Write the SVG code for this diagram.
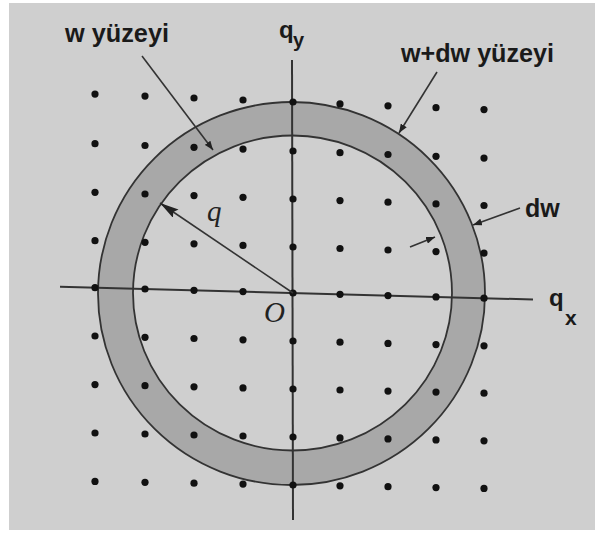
<svg xmlns="http://www.w3.org/2000/svg" width="595" height="542" viewBox="0 0 595 542">
<style>
.lbl{font-family:"Liberation Sans",Arial,sans-serif;font-weight:bold;fill:#1a1a1a}
.ital{font-family:"Liberation Serif","Times New Roman",serif;font-style:italic;fill:#222}
.lead{stroke:#333;stroke-width:1.6;fill:none}
.axis{stroke:#333;stroke-width:2;fill:none}
.dots circle{fill:#111}
</style>
<defs>
<marker id="ah" markerUnits="userSpaceOnUse" markerWidth="10" markerHeight="7" refX="9" refY="3.5" orient="auto">
<path d="M0,0 L9,3.5 L0,7 z" fill="#222"/>
</marker>
<marker id="ahq" markerUnits="userSpaceOnUse" markerWidth="20" markerHeight="10" refX="19" refY="5" orient="auto">
<path d="M0,0 L19,5 L0,10 L3,5 z" fill="#222"/>
</marker>
</defs>
<rect x="0" y="0" width="595" height="542" fill="#ffffff"/>
<rect id="background" x="9" y="3" width="586" height="527" fill="#cfcfcf"/>
<g id="ring">
<ellipse cx="291.5" cy="293.5" rx="193.5" ry="191.5" fill="#a8a8a8" stroke="#333" stroke-width="1.8"/>
<ellipse cx="292.5" cy="293" rx="159.5" ry="157.5" fill="#cfcfcf" stroke="#333" stroke-width="1.8"/>
</g>
<g id="axes">
<line class="axis" x1="60" y1="286.7" x2="533" y2="299.5"/>
<line class="axis" x1="292" y1="60" x2="293" y2="520"/>
</g>
<g id="grid" class="dots">
<circle cx="95" cy="94.1" r="3.6"/><circle cx="145" cy="96.1" r="3.6"/><circle cx="194" cy="98" r="3.6"/><circle cx="243" cy="100" r="3.6"/><circle cx="293" cy="102" r="3.6"/><circle cx="340" cy="103.9" r="3.6"/><circle cx="388" cy="105.8" r="3.6"/><circle cx="436" cy="107.7" r="3.6"/><circle cx="484" cy="109.6" r="3.6"/>
<circle cx="95" cy="143.7" r="3.6"/><circle cx="145" cy="145.5" r="3.6"/><circle cx="194" cy="147.3" r="3.6"/><circle cx="243" cy="149.1" r="3.6"/><circle cx="293" cy="151" r="3.6"/><circle cx="340" cy="152.7" r="3.6"/><circle cx="388" cy="154.5" r="3.6"/><circle cx="436" cy="156.3" r="3.6"/><circle cx="484" cy="158.1" r="3.6"/>
<circle cx="95" cy="192.3" r="3.6"/><circle cx="145" cy="194" r="3.6"/><circle cx="194" cy="195.6" r="3.6"/><circle cx="243" cy="197.3" r="3.6"/><circle cx="293" cy="199" r="3.6"/><circle cx="340" cy="200.6" r="3.6"/><circle cx="388" cy="202.2" r="3.6"/><circle cx="436" cy="203.9" r="3.6"/><circle cx="484" cy="205.5" r="3.6"/>
<circle cx="95" cy="240.7" r="3.6"/><circle cx="145" cy="242.3" r="3.6"/><circle cx="194" cy="243.8" r="3.6"/><circle cx="243" cy="245.4" r="3.6"/><circle cx="293" cy="247" r="3.6"/><circle cx="340" cy="248.5" r="3.6"/><circle cx="388" cy="250" r="3.6"/><circle cx="436" cy="251.6" r="3.6"/><circle cx="484" cy="253.1" r="3.6"/>
<circle cx="95" cy="287.7" r="3.6"/><circle cx="145" cy="289" r="3.6"/><circle cx="194" cy="290.3" r="3.6"/><circle cx="243" cy="291.6" r="3.6"/><circle cx="293" cy="293" r="3.6"/><circle cx="340" cy="294.3" r="3.6"/><circle cx="388" cy="295.6" r="3.6"/><circle cx="436" cy="296.9" r="3.6"/><circle cx="484" cy="298.2" r="3.6"/>
<circle cx="95" cy="336" r="3.6"/><circle cx="145" cy="337.3" r="3.6"/><circle cx="194" cy="338.5" r="3.6"/><circle cx="243" cy="339.8" r="3.6"/><circle cx="293" cy="341" r="3.6"/><circle cx="340" cy="342.2" r="3.6"/><circle cx="388" cy="343.4" r="3.6"/><circle cx="436" cy="344.6" r="3.6"/><circle cx="484" cy="345.8" r="3.6"/>
<circle cx="95" cy="384.6" r="3.6"/><circle cx="145" cy="385.7" r="3.6"/><circle cx="194" cy="386.8" r="3.6"/><circle cx="243" cy="387.9" r="3.6"/><circle cx="293" cy="389" r="3.6"/><circle cx="340" cy="390" r="3.6"/><circle cx="388" cy="391.1" r="3.6"/><circle cx="436" cy="392.1" r="3.6"/><circle cx="484" cy="393.2" r="3.6"/>
<circle cx="95" cy="433" r="3.6"/><circle cx="145" cy="434" r="3.6"/><circle cx="194" cy="435" r="3.6"/><circle cx="243" cy="436" r="3.6"/><circle cx="293" cy="437" r="3.6"/><circle cx="340" cy="437.9" r="3.6"/><circle cx="388" cy="438.9" r="3.6"/><circle cx="436" cy="439.9" r="3.6"/><circle cx="484" cy="440.8" r="3.6"/>
<circle cx="95" cy="481.4" r="3.6"/><circle cx="145" cy="482.3" r="3.6"/><circle cx="194" cy="483.2" r="3.6"/><circle cx="243" cy="484.1" r="3.6"/><circle cx="293" cy="485" r="3.6"/><circle cx="340" cy="485.8" r="3.6"/><circle cx="388" cy="486.7" r="3.6"/><circle cx="436" cy="487.6" r="3.6"/><circle cx="484" cy="488.4" r="3.6"/>
</g>
<g id="connectors">
<line class="lead" x1="142" y1="56" x2="213" y2="150" marker-end="url(#ah)"/>
<line class="lead" x1="437" y1="72" x2="399" y2="133" marker-end="url(#ah)"/>
<line class="lead" x1="520" y1="208" x2="473" y2="225" marker-end="url(#ah)"/>
<line class="lead" x1="410" y1="247" x2="435" y2="237" marker-end="url(#ah)"/>
<line class="lead" x1="293" y1="293" x2="160" y2="203" marker-end="url(#ahq)"/>
</g>
<g id="label-w">
<text class="lbl" x="65" y="42" font-size="25" textLength="104" lengthAdjust="spacingAndGlyphs">w yüzeyi</text>
</g>
<g id="label-wdw">
<text class="lbl" x="401" y="62" font-size="25" textLength="153" lengthAdjust="spacingAndGlyphs">w+dw yüzeyi</text>
</g>
<g id="label-dw">
<text class="lbl" x="525" y="217" font-size="25">dw</text>
</g>
<g id="label-qy">
<text class="lbl" x="279" y="38" font-size="24">q</text>
<text class="lbl" x="293" y="47" font-size="20">y</text>
</g>
<g id="label-qx">
<text class="lbl" x="549" y="306" font-size="24">q</text>
<text class="lbl" x="565" y="325" font-size="21">x</text>
</g>
<g id="label-q">
<text class="ital" x="207" y="221" font-size="29">q</text>
</g>
<g id="label-O">
<text class="ital" x="264" y="322" font-size="29">O</text>
</g>
</svg>
